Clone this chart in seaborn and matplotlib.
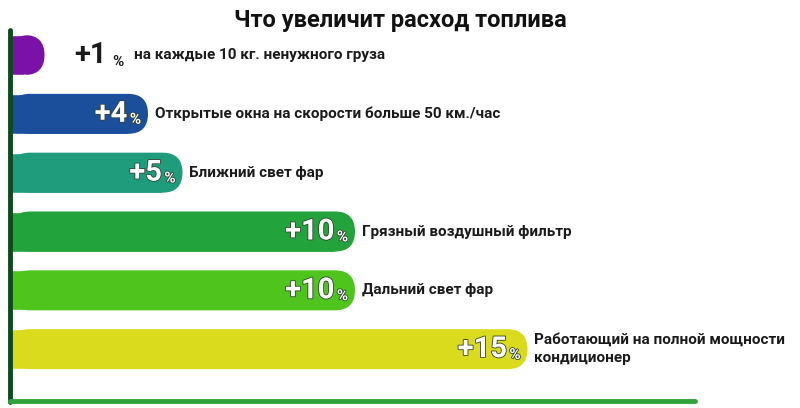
import matplotlib
matplotlib.use("Agg")
import matplotlib.pyplot as plt
import seaborn as sns
import pandas as pd
from matplotlib.patches import FancyBboxPatch
import matplotlib.patheffects as pe

values = [1, 4, 5, 10, 10, 15]
labels = ["на каждые 10 кг. ненужного груза",
          "Открытые окна на скорости больше 50 км./час",
          "Ближний свет фар",
          "Грязный воздушный фильтр",
          "Дальний свет фар",
          "Работающий на полной мощности\nкондиционер"]
colors = ["#7A12A8", "#1B4F9C", "#1E9C7C", "#23A33C", "#4EC41C", "#DADB1C"]
title = "Что увеличит расход топлива"

sns.set_theme(style="white")
plt.rcParams['font.family'] = ['Roboto', 'DejaVu Sans']

df = pd.DataFrame({"cat": [str(i) for i in range(len(values))], "val": values})
fig = plt.figure(figsize=(8, 4.08), dpi=100)
ax = fig.add_axes([0, 0, 1, 1])
sns.barplot(data=df, y="cat", x="val", hue="cat", palette=colors, legend=False,
            orient="h", width=0.68, ax=ax, saturation=1)
ax.set_xlim(-10/34.5, 790/34.5)
ax.set_ylim(6.0, -0.935)
ax.axis("off")

r = 0.58
asp = 0.34 / 0.58
for p, c in zip(list(ax.patches), colors):
    x0, y0, w, h = p.get_x(), p.get_y(), p.get_width(), p.get_height()
    p.set_width(max(w - r, 0.01))
    ax.add_patch(FancyBboxPatch((x0, y0), w, h, boxstyle=f"round,pad=0,rounding_size={r}",
                                mutation_aspect=asp, fc=c, ec="none", zorder=2))

stroke = [pe.withStroke(linewidth=1.2, foreground="#334433")]
for i, (v, t) in enumerate(zip(values, labels)):
    if v <= 2:
        ax.text(v + 2.3, i + 0.12, "%", ha="right", va="center", color="#1a1a1a",
                fontsize=11, fontweight="bold", zorder=5)
        ax.text(v + 1.8, i, f"+{v}", ha="right", va="center", color="#1a1a1a",
                fontsize=21, fontweight="bold", zorder=5)
        tx = v + 2.6
    else:
        ax.text(v - 0.2, i + 0.1, "%", ha="right", va="center", color="white",
                fontsize=11, fontweight="bold", path_effects=stroke, zorder=5)
        ax.text(v - 0.6, i, f"+{v}", ha="right", va="center", color="white",
                fontsize=21, fontweight="bold", path_effects=stroke, zorder=5)
        tx = v + 0.2
    ax.text(tx, i, t, ha="left", va="center", color="#1a1a1a", fontsize=11,
            fontweight="bold", zorder=5, linespacing=1.4)

fig.add_artist(plt.Line2D([10/800, 10/800], [1 - 30/408, 1 - 402/408], color="#0E4A1E",
                          lw=3.5, transform=fig.transFigure))
fig.add_artist(plt.Line2D([10/800, 695/800], [1 - 401/408, 1 - 401/408], color="#2FA33A",
                          lw=3.5, transform=fig.transFigure))
fig.text(400/800, 1 - 20/408, title, ha="center", va="center", fontsize=17,
         fontweight="bold", color="#111111")
fig.savefig("out.png", dpi=100)
